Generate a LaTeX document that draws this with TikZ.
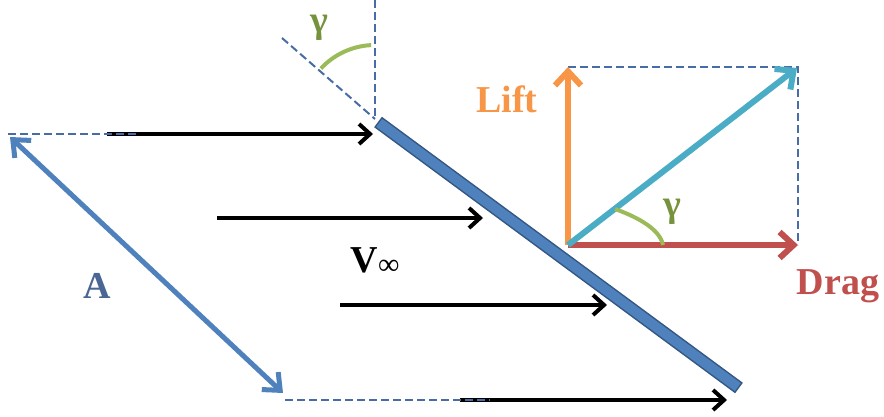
\documentclass[tikz,border=0pt]{standalone}
\usepackage{fontspec}
\setmainfont{Liberation Serif}
\usetikzlibrary{arrows.meta, positioning, calc}
\definecolor{birupelat}{RGB}{79,129,189}
\definecolor{tepipelat}{RGB}{52,86,130}
\definecolor{birugaris}{RGB}{72,108,165}
\definecolor{biruteks}{RGB}{74,102,148}
\definecolor{oranyelift}{RGB}{247,150,70}
\definecolor{merahdrag}{RGB}{192,80,77}
\definecolor{sianres}{RGB}{75,172,198}
\definecolor{hijausudut}{RGB}{155,187,89}
\definecolor{hijauteks}{RGB}{118,146,60}

\begin{document}
\begin{tikzpicture}[x=0.5pt, y=0.5pt,
        every node/.style={font=\fontsize{19}{22}\selectfont\bfseries},
        putus/.style={draw=birugaris, line width=1pt, dash pattern=on 4pt off 2pt},
        alir/.style={-{Straight Barb[length=5.5pt,width=10pt]}, line width=2pt, black},
        gaya/.style={-{Straight Barb[length=7pt,width=13pt]}, line width=3pt},
        dua/.style={{Straight Barb[length=7pt,width=12pt]}-{Straight Barb[length=7pt,width=12pt]},
                    line width=2.5pt, draw=birupelat},
        sudut/.style={draw=hijausudut, line width=2pt},
        pelat/.style={line width=6.5pt, draw=tepipelat,
                      postaction={draw=birupelat, line width=5pt, shorten <=0.75pt, shorten >=0.75pt}}
    ]
        \useasboundingbox (0,0) rectangle (884,-417);
        \coordinate (atas)   at (375,0);
        \coordinate (ujung)  at (375,-119);
        \coordinate (miring) at (282,-38);
        \coordinate (pa) at (378,-122);
        \coordinate (pb) at (739,-388);
        \coordinate (ka1) at (8,-134);    \coordinate (ka2) at (137,-134);
        \coordinate (kb1) at (285,-400);  \coordinate (kb2) at (490,-400);
        \coordinate (v1s) at (107,-134);  \coordinate (v1e) at (373,-134);
        \coordinate (v2s) at (217,-218);  \coordinate (v2e) at (483,-218);
        \coordinate (v3s) at (340,-305);  \coordinate (v3e) at (607,-305);
        \coordinate (v4s) at (460,-400);  \coordinate (v4e) at (727,-400);
        \coordinate (la) at (10,-137);    \coordinate (lb) at (283,-393);
        \coordinate (o) at (568,-245);
        \coordinate (ft) at (568,-67);
        \coordinate (fd) at (798,-245);
        \coordinate (fr) at (797,-68);
        \coordinate (s1) at (615,-209);   \coordinate (s2) at (663,-245);

        \draw[putus] (atas) -- (ujung);
        \draw[putus] (miring) -- (ujung);
        \draw[sudut] ($(ujung)+(137:74)$) arc[start angle=137, end angle=93, radius=74];
        \draw[alir] (v1s) -- (v1e);
        \draw[alir] (v2s) -- (v2e);
        \draw[alir] (v3s) -- (v3e);
        \draw[alir] (v4s) -- (v4e);
        \draw[putus] (ka1) -- (ka2);
        \draw[putus] (kb1) -- (kb2);
        \draw[dua] (la) -- (lb);
        \draw[pelat] (pa) -- (pb);

        \draw[putus] (ft) -| (fd);
        \draw[gaya, oranyelift] (o) -- (ft);
        \draw[gaya, merahdrag] (o) -- (fd);
        \draw[gaya, sianres] (o) -- (fr);
        \draw[sudut] (s1) .. controls (640,-218) and (660,-230) .. (s2);

        \node[hijauteks, anchor=base, inner sep=1pt] (gamma1) at (319,-33) {γ};
        \node[hijauteks, anchor=base, inner sep=1pt] (gamma2) at (672,-216) {γ};
        \node[oranyelift, anchor=base] (lift) at (507,-113) {Lift};
        \node[merahdrag, anchor=base] (drag) at (838,-294) {Drag};
        \node[biruteks, anchor=base] (luas) at (97,-298) {A};
        \node[anchor=base] (kecepatan) at (375,-272)
            {V\raisebox{-1pt}{\fontsize{15}{17}\selectfont\mdseries ∞}};
    \end{tikzpicture}
\end{document}
